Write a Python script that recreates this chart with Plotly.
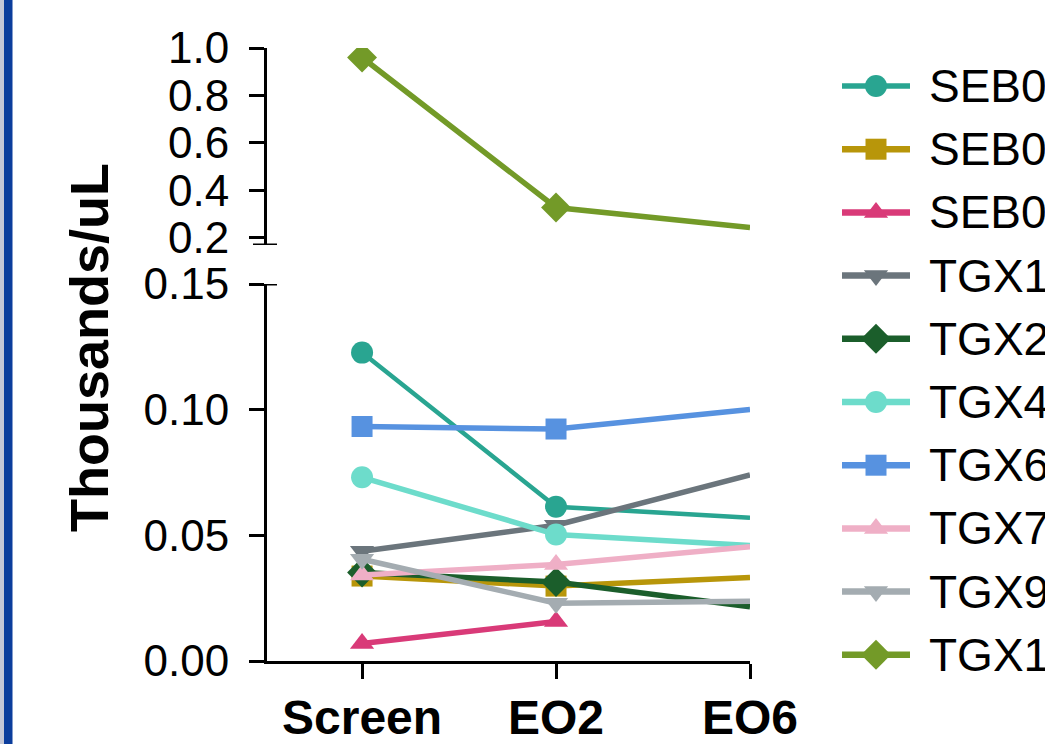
import plotly.graph_objects as go

# ---------------- data ----------------
categories = ["Screen", "EO2", "EO6"]
series_names = ["SEB0", "SEB0", "SEB0", "TGX1", "TGX2", "TGX4", "TGX6", "TGX7", "TGX9", "TGX1"]
seb0_a = [0.1227, 0.0614, 0.0570]
seb0_b = [0.0338, 0.0298, 0.0332]
seb0_c = [0.0070, 0.0157, None]
tgx1_a = [0.0437, 0.0540, 0.0740]
tgx2 = [0.0352, 0.0314, 0.0216]
tgx4 = [0.0731, 0.0503, 0.0460]
tgx6 = [0.0933, 0.0923, 0.1001]
tgx7 = [0.0342, 0.0384, 0.0455]
tgx9 = [0.0405, 0.0230, 0.0238]
tgx1_b = [0.960, 0.328, 0.244]
all_series = [seb0_a, seb0_b, seb0_c, tgx1_a, tgx2, tgx4, tgx6, tgx7, tgx9, tgx1_b]

bottom_ticks = [0.00, 0.05, 0.10, 0.15]
top_ticks = [0.2, 0.4, 0.6, 0.8, 1.0]

# ---------------- styles ----------------
colors = ["#29a591", "#b8960a", "#d93a78", "#6b757c", "#1b5e2b",
          "#6ddccb", "#5792e0", "#efafc6", "#a4acb1", "#739a28"]
symbols = ["circle", "square", "triangle-up", "triangle-down", "diamond",
           "circle", "square", "triangle-up", "triangle-down", "diamond"]
msizes = [22, 21, 21, 21, 23, 22, 21, 21, 21, 23]
lwidths = [4.5, 5.5, 5.5, 5.5, 5.5, 5.5, 5.5, 5.5, 5.5, 5.5]

W, H = 1045, 744
FONT = "Liberation Sans, Arial, sans-serif"
FS_TICK = 44
FS_X = 48
FS_LEG = 46
FS_TITLE = 54

def px_x(p):
    return p / W

def px_y(p):
    return 1 - p / H

fig = go.Figure()

# main data, drawn on both segments of the broken axis (clipped per segment)
for i, vals in enumerate(all_series):
    sizes = [msizes[i], msizes[i], 0]
    for xa, ya in (("x", "y"), ("x2", "y2")):
        fig.add_trace(go.Scatter(
            x=categories, y=vals, xaxis=xa, yaxis=ya,
            mode="lines+markers", name=series_names[i], showlegend=False,
            line=dict(color=colors[i], width=lwidths[i]),
            marker=dict(color=colors[i], symbol=symbols[i], size=sizes, opacity=1,
                        line=dict(width=0)),
            hoverinfo="skip",
        ))

# manual legend (Prism style: long line sample with marker in the middle)
row0, row_step = 86, 63.2
for i, nm in enumerate(series_names):
    ry = row0 + row_step * i
    fig.add_trace(go.Scatter(
        x=[842, 876, 910], y=[ry, ry, ry], xaxis="x3", yaxis="y3",
        mode="lines+markers", showlegend=False, cliponaxis=False,
        line=dict(color=colors[i], width=lwidths[i] + 1),
        marker=dict(color=colors[i], symbol=symbols[i], size=[0, msizes[i], 0], opacity=1,
                    line=dict(width=0)),
        hoverinfo="skip",
    ))
    fig.add_annotation(x=927, y=ry, xref="x3", yref="y3", text=nm, showarrow=False,
                       xanchor="left", yanchor="middle",
                       font=dict(family=FONT, size=FS_LEG, color="black"))

axis_common = dict(showgrid=False, zeroline=False, showline=True, linecolor="black",
                   linewidth=3, ticks="outside", ticklen=15, tickwidth=3, tickcolor="black")

x_dom = [px_x(267), px_x(750)]
fig.update_layout(
    width=W, height=H,
    margin=dict(l=0, r=0, t=0, b=0, autoexpand=False),
    paper_bgcolor="white", plot_bgcolor="white",
    showlegend=False,
    xaxis=dict(domain=x_dom, anchor="y", type="category", range=[-0.49, 2.0],
               categoryorder="array", categoryarray=categories,
               tickfont=dict(family=FONT, size=FS_X, color="black", weight="bold"),
               ticklabelstandoff=-3, **axis_common),
    yaxis=dict(domain=[px_y(661), px_y(284)], anchor="x", range=[0, 0.15],
               tickvals=bottom_ticks, tickformat=".2f", ticklabelstandoff=11,
               tickfont=dict(family=FONT, size=FS_TICK, color="black"), **axis_common),
    xaxis2=dict(domain=x_dom, anchor="y2", type="category", range=[-0.49, 2.0],
                categoryorder="array", categoryarray=categories,
                visible=False),
    yaxis2=dict(domain=[px_y(245), px_y(48)], anchor="x2", range=[0.17, 1.0],
                tickvals=top_ticks, tickformat=".1f", ticklabelstandoff=11,
                tickfont=dict(family=FONT, size=FS_TICK, color="black"), **axis_common),
    xaxis3=dict(domain=[px_x(800), 1], range=[800, 1045], visible=False, fixedrange=True),
    yaxis3=dict(domain=[0, 1], range=[744, 0], visible=False, fixedrange=True, anchor="x3"),
)

# broken-axis caps
fig.add_shape(type="line", xref="paper", yref="y", x0=px_x(253), x1=px_x(277), y0=0.15, y1=0.15,
              line=dict(color="black", width=3))
fig.add_shape(type="line", xref="paper", yref="y2", x0=px_x(253), x1=px_x(277), y0=0.17, y1=0.17,
              line=dict(color="black", width=3))

# y-axis title
fig.add_annotation(x=px_x(89), y=px_y(348), xref="paper", yref="paper", text="<b>Thousands/uL</b>",
                   textangle=-90, showarrow=False, xanchor="center", yanchor="middle",
                   font=dict(family=FONT, size=FS_TITLE, color="black"))

# left window border strip
fig.add_shape(type="rect", xref="paper", yref="paper", x0=0, x1=px_x(4), y0=0, y1=1,
              fillcolor="#c4c7d6", line=dict(width=0), layer="above")
fig.add_shape(type="rect", xref="paper", yref="paper", x0=px_x(4), x1=px_x(12.5), y0=0, y1=1,
              fillcolor="#0b3d9c", line=dict(width=0), layer="above")

fig.write_html("out.html", config={"displayModeBar": False},
               post_script="document.body.style.margin='0';document.body.style.padding='0';")
